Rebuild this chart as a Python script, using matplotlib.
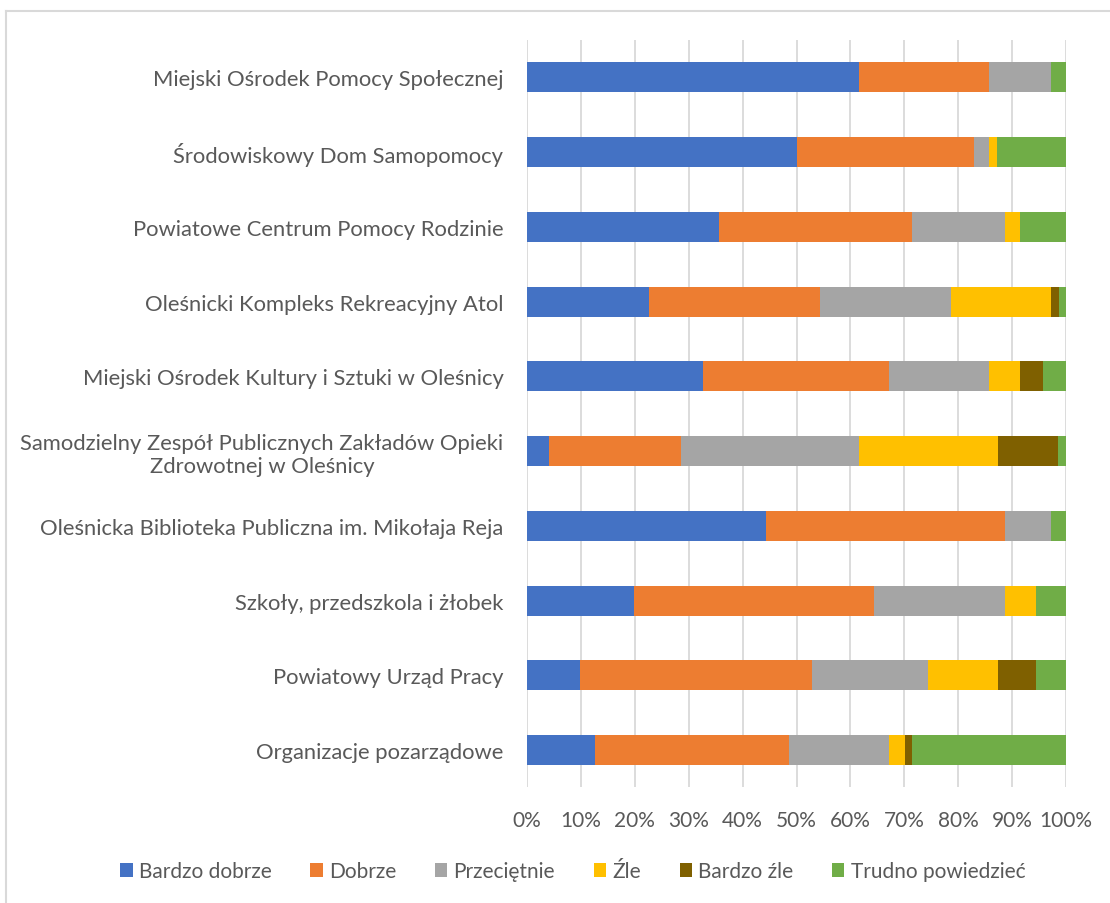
import matplotlib.pyplot as plt
import numpy as np
from matplotlib.lines import Line2D
from matplotlib.patches import Patch

# Ocena jednostek - udział odpowiedzi (%)
categories = [
    "Miejski Ośrodek Pomocy Społecznej",
    "Środowiskowy Dom Samopomocy",
    "Powiatowe Centrum Pomocy Rodzinie",
    "Oleśnicki Kompleks Rekreacyjny Atol",
    "Miejski Ośrodek Kultury i Sztuki w Oleśnicy",
    "Samodzielny Zespół Publicznych Zakładów Opieki\nZdrowotnej w Oleśnicy",
    "Oleśnicka Biblioteka Publiczna im. Mikołaja Reja",
    "Szkoły, przedszkola i żłobek",
    "Powiatowy Urząd Pracy",
    "Organizacje pozarządowe",
]
series_names = ["Bardzo dobrze", "Dobrze", "Przeciętnie", "Źle", "Bardzo źle", "Trudno powiedzieć"]

bardzo_dobrze = [61.5, 50.0, 35.6, 22.7, 32.7, 4.1, 44.4, 19.8, 9.8, 12.7]
dobrze = [24.2, 32.9, 35.9, 31.7, 34.5, 24.4, 44.3, 44.6, 43.1, 35.9]
przecietnie = [11.6, 2.8, 17.2, 24.3, 18.5, 33.0, 8.6, 24.2, 21.4, 18.6]
zle = [0.0, 1.5, 2.8, 18.6, 5.8, 25.8, 0.0, 5.8, 13.0, 2.9]
bardzo_zle = [0.0, 0.0, 0.0, 1.4, 4.3, 11.3, 0.0, 0.0, 7.1, 1.4]
trudno = [2.7, 12.8, 8.5, 1.3, 4.2, 1.4, 2.7, 5.6, 5.6, 28.5]

colors = ["#4472C4", "#ED7D31", "#A5A5A5", "#FFC000", "#7F6000", "#70AD47"]
text_color = "#595959"

plt.rcParams['font.family'] = ['Lato', 'DejaVu Sans']

fig = plt.figure(figsize=(11.1, 9.04), dpi=100)
ax = fig.add_axes([0.4748, 0.1278, 0.4856, 0.8269])

data = np.array([bardzo_dobrze, dobrze, przecietnie, zle, bardzo_zle, trudno])
y = np.arange(len(categories))
left = np.zeros(len(categories))
for vals, name, col in zip(data, series_names, colors):
    ax.barh(y, vals, left=left, height=0.4, color=col, label=name, zorder=3)
    left += vals

ax.set_xlim(0, 100)
ax.set_ylim(len(categories) - 0.5, -0.5)
ax.set_xticks(np.arange(0, 101, 10))
ax.set_xticklabels([f"{v}%" for v in range(0, 101, 10)])
ax.set_yticks(y)
ax.set_yticklabels(categories, multialignment='center')
ax.tick_params(axis='both', length=0, labelsize=15, colors=text_color)
ax.tick_params(axis='y', pad=17, labelsize=15.8)
ax.tick_params(axis='x', pad=16)
ax.grid(axis='x', color='#D9D9D9', linewidth=1.3, zorder=0)
for s in ax.spines.values():
    s.set_visible(False)

handles = [Patch(facecolor=c, edgecolor='none') for c in colors]
fig.legend(handles, series_names, loc='center', bbox_to_anchor=(0.516, 0.035),
           ncol=6, frameon=False, fontsize=15, labelcolor=text_color,
           handlelength=0.6, handleheight=0.6, handletextpad=0.3, columnspacing=1.85)

# ramka wykresu (góra i lewa krawędź)
fig.add_artist(Line2D([6 / 1110, 1], [1 - 12 / 904, 1 - 12 / 904], color='#D9D9D9', linewidth=1.5))
fig.add_artist(Line2D([6 / 1110, 6 / 1110], [0, 1 - 12 / 904], color='#D9D9D9', linewidth=1.5))

fig.savefig("out.png", dpi=100, facecolor='white')
